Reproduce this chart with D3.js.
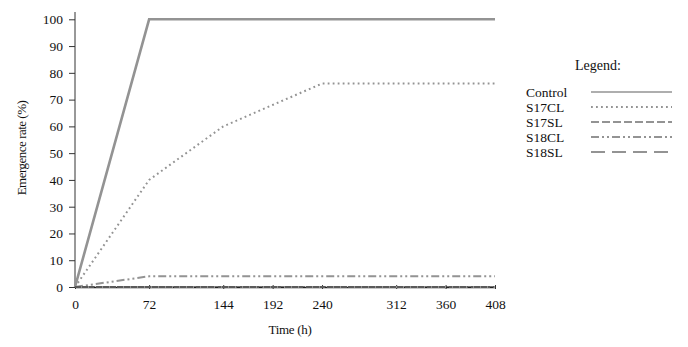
<!DOCTYPE html>
<html><head><meta charset="utf-8">
<script src="https://cdn.jsdelivr.net/npm/d3@7"></script>
<style>body{margin:0;background:#fff}svg{display:block}text{font-family:"Liberation Serif","Times New Roman",serif;fill:#111}</style>
</head><body><svg id="c" width="688" height="347"></svg>
<script>
const hours = [0, 72, 144, 192, 240, 312, 360, 408];
const xTicks = [0, 72, 144, 192, 240, 312, 360, 408];
const yTicks = [0, 10, 20, 30, 40, 50, 60, 70, 80, 90, 100];
const seriesNames = ["Control", "S17CL", "S17SL", "S18CL", "S18SL"];
const control = [0, 100, 100, 100, 100, 100, 100, 100];
const s17cl = [0, 40, 60, 68, 76, 76, 76, 76];
const s17sl = [0, 0, 0, 0, 0, 0, 0, 0];
const s18cl = [0, 4, 4, 4, 4, 4, 4, 4];
const s18sl = [0, 0, 0, 0, 0, 0, 0, 0];
const seriesValues = [control, s17cl, s17sl, s18cl, s18sl];
const dashes = [null, "1.8,3.2", "8,3", "8,3,2,3,2,3", "14,7"];
const widths = [2.6, 2, 2, 2, 2];

const svg = d3.select("#c");
const x = d3.scaleLinear().domain([0, 408]).range([75, 495]);
const y = d3.scaleLinear().domain([0, 100]).range([287, 19.3]);

// y axis
const yAxis = svg.append("g").attr("transform", "translate(75,0)")
  .call(d3.axisLeft(y).tickValues(yTicks).tickSize(6).tickPadding(6).tickFormat(d3.format("d")));
yAxis.attr("font-family", null);
yAxis.select(".domain").attr("d", "M0,12V287").attr("stroke", "#333");
yAxis.selectAll(".tick line").attr("stroke", "#333");
yAxis.selectAll("text").attr("font-size", 13.5).style("font-family", '"Liberation Serif",serif').attr("fill", "#111");

// x axis
const xAxis = svg.append("g").attr("transform", "translate(0,287)")
  .call(d3.axisBottom(x).tickValues(xTicks).tickSizeInner(0).tickSizeOuter(0).tickPadding(12).tickFormat(d3.format("d")));
xAxis.attr("font-family", null);
xAxis.select(".domain").attr("stroke", "#222").attr("stroke-width", 1.5);
xAxis.selectAll(".tick line").attr("y1", -2).attr("y2", 2).attr("stroke", "#333");
xAxis.selectAll("text").attr("font-size", 13.5).style("font-family", '"Liberation Serif",serif').attr("fill", "#111");

// labels
svg.append("text").attr("transform", "translate(26,148) rotate(-90)").attr("text-anchor", "middle")
  .attr("font-size", 13).attr("letter-spacing", -0.5).text("Emergence rate (%)");
svg.append("text").attr("x", 290).attr("y", 334).attr("text-anchor", "middle")
  .attr("font-size", 13).attr("letter-spacing", -0.3).text("Time (h)");

// lines
const line = d3.line().x((d, i) => x(hours[i])).y(d => y(d));
const order = [4, 2, 3, 1, 0];
order.forEach(k => {
  svg.append("path").datum(seriesValues[k]).attr("d", line)
    .attr("fill", "none").attr("stroke", "#939393").attr("stroke-width", widths[k])
    .attr("stroke-dasharray", dashes[k]);
});
// zero baseline appearance (overlapping dark line)
svg.append("path").datum(s17sl).attr("d", line).attr("fill", "none")
  .attr("stroke", "#222").attr("stroke-width", 1.2).attr("stroke-dasharray", "6,1");

// legend
svg.append("text").attr("x", 598).attr("y", 70).attr("text-anchor", "middle").attr("font-size", 14).text("Legend:");
seriesNames.forEach((n, i) => {
  const yy = 92 + i * 15;
  svg.append("text").attr("x", 526).attr("y", yy + 4.5).attr("font-size", 13.5).text(n);
  svg.append("line").attr("x1", 591).attr("x2", 672).attr("y1", yy).attr("y2", yy)
    .attr("stroke", "#939393").attr("stroke-width", i === 0 ? 1.3 : 2)
    .attr("stroke-dasharray", dashes[i]);
});
</script></body></html>
